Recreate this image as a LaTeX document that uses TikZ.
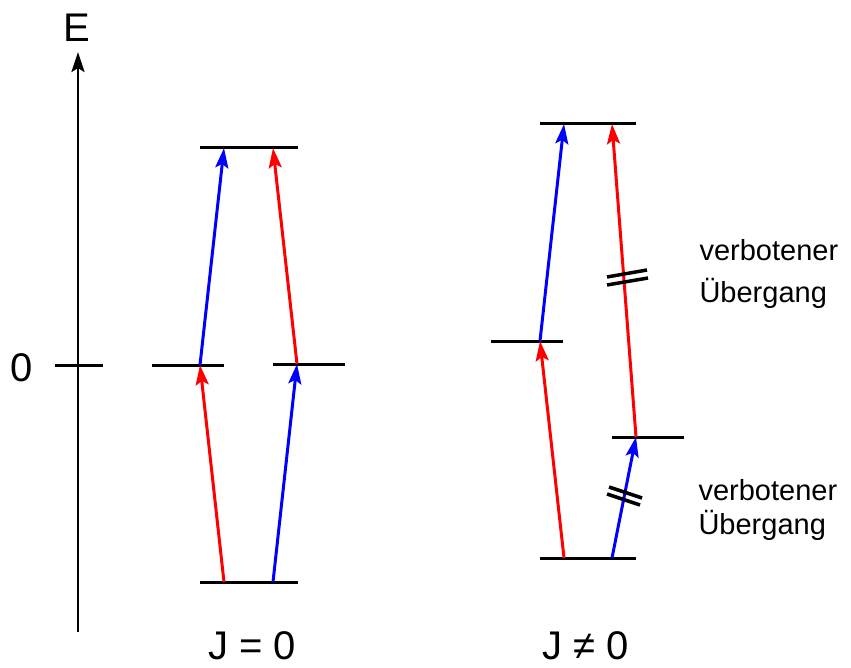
\documentclass[tikz,border=0pt]{standalone}
\usepackage{fontspec}
\setmainfont{Liberation Sans}
\usetikzlibrary{arrows.meta}
\begin{document}
\begin{tikzpicture}[x=1pt,y=-1pt,
  level/.style={line width=3pt},
  trans/.style={line width=3pt,-{Stealth[length=20pt,width=13pt,inset=4pt]}},
  hatch/.style={line width=3.5pt},
  big/.style={font=\fontsize{40}{48}\selectfont},
  small/.style={font=\fontsize{29}{35}\selectfont, align=left}]
\useasboundingbox (0,0) rectangle (851,668);
% axis
\coordinate (ax0) at (78,632);
\coordinate (ax1) at (78,52);
\draw[trans,black,line width=2.5pt] (ax0) -- (ax1);
\node[big] (E) at (77,28) {E};
\coordinate (t0) at (55,365);
\coordinate (t1) at (103,365);
\draw[level] (t0) -- (t1);
\node[big] (zero) at (22,368) {0};
% left diagram levels
\coordinate (LT1) at (200,148); \coordinate (LT2) at (298,148);
\coordinate (LB1) at (200,582); \coordinate (LB2) at (298,582);
\coordinate (LM1) at (152,365); \coordinate (LM2) at (224,365);
\coordinate (LN1) at (273,364); \coordinate (LN2) at (345,364);
\draw[level] (LT1) -- (LT2);
\draw[level] (LB1) -- (LB2);
\draw[level] (LM1) -- (LM2);
\draw[level] (LN1) -- (LN2);
\coordinate (a1) at (224,582); \coordinate (a2) at (200,365); \coordinate (a3) at (224,148);
\coordinate (b1) at (273,582); \coordinate (b2) at (297,364); \coordinate (b3) at (273,148);
\draw[trans,red] (a1) -- (a2);
\draw[trans,blue] (a2) -- (a3);
\draw[trans,blue] (b1) -- (b2);
\draw[trans,red] (b2) -- (b3);
% right diagram levels
\coordinate (RT1) at (540,124); \coordinate (RT2) at (636,124);
\coordinate (RB1) at (540,558); \coordinate (RB2) at (636,558);
\coordinate (RM1) at (491,341); \coordinate (RM2) at (563,341);
\coordinate (RN1) at (612,437); \coordinate (RN2) at (684,437);
\draw[level] (RT1) -- (RT2);
\draw[level] (RB1) -- (RB2);
\draw[level] (RM1) -- (RM2);
\draw[level] (RN1) -- (RN2);
\coordinate (c1) at (564,558); \coordinate (c2) at (540,341); \coordinate (c3) at (564,124);
\coordinate (d1) at (612,558); \coordinate (d2) at (636,437); \coordinate (d3) at (612,124);
\draw[trans,red] (c1) -- (c2);
\draw[trans,blue] (c2) -- (c3);
\draw[trans,blue] (d1) -- (d2);
\draw[trans,red] (d2) -- (d3);
% hatch marks
\coordinate (h1a) at (607,277); \coordinate (h1b) at (647,270);
\coordinate (h2a) at (607,285); \coordinate (h2b) at (648,278);
\draw[hatch] (h1a) -- (h1b);
\draw[hatch] (h2a) -- (h2b);
\coordinate (h3a) at (609,487); \coordinate (h3b) at (642,498);
\coordinate (h4a) at (607,494); \coordinate (h4b) at (640,505);
\draw[hatch] (h3a) -- (h3b);
\draw[hatch] (h4a) -- (h4b);
% labels
\node[small,anchor=west] (v1) at (696,250) {verbotener};
\node[small,anchor=west] (u1) at (696,293) {Übergang};
\node[small,anchor=west] (v2) at (695,490) {verbotener};
\node[small,anchor=west] (u2) at (695,525) {Übergang};
\node[big] (J0) at (252,646) {J = 0};
\node[big] (J1) at (586,646) {J ≠ 0};
\end{tikzpicture}
\end{document}
